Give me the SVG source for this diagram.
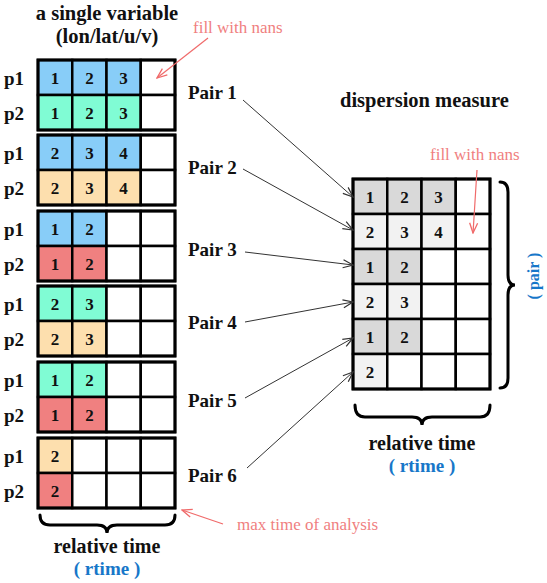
<svg xmlns="http://www.w3.org/2000/svg" width="547" height="583" viewBox="0 0 547 583" font-family="'Liberation Serif', 'DejaVu Serif', 'Times New Roman', Times, serif">
<style>
.c{stroke:#000;stroke-width:2.5}
.ob{fill:none;stroke:#000;stroke-width:3}
.b{fill:#88cdf8}.a{fill:#80fcd4}.o{fill:#fddfae}.r{fill:#f08080}.w{fill:#fff}.d{fill:#d9d9d9}.l{fill:#f2f2f2}
text{font-family:'Liberation Serif','DejaVu Serif','Times New Roman',Times,serif}
.n{font-size:17px;font-weight:bold;text-anchor:middle;fill:#111}
.t{font-size:19px;font-weight:bold;fill:#111}
.tt{font-size:20.5px;font-weight:bold;fill:#111}
.tm{font-size:20px;font-weight:bold;fill:#111;text-anchor:middle}
.bl{font-size:19px;font-weight:bold;fill:#1777c9;text-anchor:middle}
.pk{font-size:17px;fill:#f07f7f}
.k{fill:none;stroke:#333;stroke-width:1}
.rk{fill:none;stroke:#f06a6a;stroke-width:1.2}
.br{fill:none;stroke:#000;stroke-width:3;stroke-linecap:round}
</style>
<defs>
<marker id="ah" viewBox="0 0 12 10" refX="11" refY="5" markerWidth="12" markerHeight="10" markerUnits="userSpaceOnUse" orient="auto">
<path d="M1,1 L11,5 L1,9" fill="none" stroke="#333" stroke-width="1.2"/>
</marker>
<marker id="rh" viewBox="0 0 12 10" refX="11" refY="5" markerWidth="12" markerHeight="10" markerUnits="userSpaceOnUse" orient="auto">
<path d="M1,1 L11,5 L1,9" fill="none" stroke="#f06a6a" stroke-width="1.3"/>
</marker>
</defs>
<rect width="547" height="583" fill="#fff"/>

<g id="title-left">
<text class="tt" x="107" y="20" text-anchor="middle">a single variable</text>
<text class="tt" x="107" y="43" text-anchor="middle">(lon/lat/u/v)</text>
</g>
<text class="pk" x="193" y="33">fill with nans</text>

<g id="grid1">
<rect class="c b" x="38" y="60" width="34.25" height="35"/><rect class="c b" x="72.25" y="60" width="34.25" height="35"/><rect class="c b" x="106.5" y="60" width="34.25" height="35"/><rect class="c w" x="140.75" y="60" width="34.25" height="35"/>
<rect class="c a" x="38" y="95" width="34.25" height="35"/><rect class="c a" x="72.25" y="95" width="34.25" height="35"/><rect class="c a" x="106.5" y="95" width="34.25" height="35"/><rect class="c w" x="140.75" y="95" width="34.25" height="35"/>
<rect class="ob" x="38" y="60" width="137" height="70"/>
<text class="n" x="55.1" y="83.5">1</text><text class="n" x="89.4" y="83.5">2</text><text class="n" x="123.6" y="83.5">3</text>
<text class="n" x="55.1" y="118.5">1</text><text class="n" x="89.4" y="118.5">2</text><text class="n" x="123.6" y="118.5">3</text>
<text class="t" x="4" y="85">p1</text><text class="t" x="4" y="120">p2</text>
</g>

<g id="grid2">
<rect class="c b" x="38" y="135" width="34.25" height="35"/><rect class="c b" x="72.25" y="135" width="34.25" height="35"/><rect class="c b" x="106.5" y="135" width="34.25" height="35"/><rect class="c w" x="140.75" y="135" width="34.25" height="35"/>
<rect class="c o" x="38" y="170" width="34.25" height="35"/><rect class="c o" x="72.25" y="170" width="34.25" height="35"/><rect class="c o" x="106.5" y="170" width="34.25" height="35"/><rect class="c w" x="140.75" y="170" width="34.25" height="35"/>
<rect class="ob" x="38" y="135" width="137" height="70"/>
<text class="n" x="55.1" y="158.5">2</text><text class="n" x="89.4" y="158.5">3</text><text class="n" x="123.6" y="158.5">4</text>
<text class="n" x="55.1" y="193.5">2</text><text class="n" x="89.4" y="193.5">3</text><text class="n" x="123.6" y="193.5">4</text>
<text class="t" x="4" y="160">p1</text><text class="t" x="4" y="195">p2</text>
</g>

<g id="grid3">
<rect class="c b" x="38" y="211" width="34.25" height="35"/><rect class="c b" x="72.25" y="211" width="34.25" height="35"/><rect class="c w" x="106.5" y="211" width="34.25" height="35"/><rect class="c w" x="140.75" y="211" width="34.25" height="35"/>
<rect class="c r" x="38" y="246" width="34.25" height="35"/><rect class="c r" x="72.25" y="246" width="34.25" height="35"/><rect class="c w" x="106.5" y="246" width="34.25" height="35"/><rect class="c w" x="140.75" y="246" width="34.25" height="35"/>
<rect class="ob" x="38" y="211" width="137" height="70"/>
<text class="n" x="55.1" y="234.5">1</text><text class="n" x="89.4" y="234.5">2</text>
<text class="n" x="55.1" y="269.5">1</text><text class="n" x="89.4" y="269.5">2</text>
<text class="t" x="4" y="236">p1</text><text class="t" x="4" y="271">p2</text>
</g>

<g id="grid4">
<rect class="c a" x="38" y="286" width="34.25" height="35"/><rect class="c a" x="72.25" y="286" width="34.25" height="35"/><rect class="c w" x="106.5" y="286" width="34.25" height="35"/><rect class="c w" x="140.75" y="286" width="34.25" height="35"/>
<rect class="c o" x="38" y="321" width="34.25" height="35"/><rect class="c o" x="72.25" y="321" width="34.25" height="35"/><rect class="c w" x="106.5" y="321" width="34.25" height="35"/><rect class="c w" x="140.75" y="321" width="34.25" height="35"/>
<rect class="ob" x="38" y="286" width="137" height="70"/>
<text class="n" x="55.1" y="309.5">2</text><text class="n" x="89.4" y="309.5">3</text>
<text class="n" x="55.1" y="344.5">2</text><text class="n" x="89.4" y="344.5">3</text>
<text class="t" x="4" y="311">p1</text><text class="t" x="4" y="346">p2</text>
</g>

<g id="grid5">
<rect class="c a" x="38" y="362" width="34.25" height="35"/><rect class="c a" x="72.25" y="362" width="34.25" height="35"/><rect class="c w" x="106.5" y="362" width="34.25" height="35"/><rect class="c w" x="140.75" y="362" width="34.25" height="35"/>
<rect class="c r" x="38" y="397" width="34.25" height="35"/><rect class="c r" x="72.25" y="397" width="34.25" height="35"/><rect class="c w" x="106.5" y="397" width="34.25" height="35"/><rect class="c w" x="140.75" y="397" width="34.25" height="35"/>
<rect class="ob" x="38" y="362" width="137" height="70"/>
<text class="n" x="55.1" y="385.5">1</text><text class="n" x="89.4" y="385.5">2</text>
<text class="n" x="55.1" y="420.5">1</text><text class="n" x="89.4" y="420.5">2</text>
<text class="t" x="4" y="387">p1</text><text class="t" x="4" y="422">p2</text>
</g>

<g id="grid6">
<rect class="c o" x="38" y="438" width="34.25" height="35"/><rect class="c w" x="72.25" y="438" width="34.25" height="35"/><rect class="c w" x="106.5" y="438" width="34.25" height="35"/><rect class="c w" x="140.75" y="438" width="34.25" height="35"/>
<rect class="c r" x="38" y="473" width="34.25" height="35"/><rect class="c w" x="72.25" y="473" width="34.25" height="35"/><rect class="c w" x="106.5" y="473" width="34.25" height="35"/><rect class="c w" x="140.75" y="473" width="34.25" height="35"/>
<rect class="ob" x="38" y="438" width="137" height="70"/>
<text class="n" x="55.1" y="461.5">2</text>
<text class="n" x="55.1" y="496.5">2</text>
<text class="t" x="4" y="463">p1</text><text class="t" x="4" y="498">p2</text>
</g>

<g id="axis-left">
<path class="br" d="M40,515 Q40,525 50,525 L97,525 Q107,525 107,533 Q107,525 117,525 L165,525 Q175,525 175,515"/>
<text class="tm" x="107" y="553">relative time</text>
<text class="bl" x="107" y="575">( rtime )</text>
</g>
<text class="pk" x="237" y="530">max time of analysis</text>

<g id="pairs">
<text class="t" x="188" y="99">Pair 1</text>
<text class="t" x="188" y="174">Pair 2</text>
<text class="t" x="188" y="256">Pair 3</text>
<text class="t" x="188" y="329">Pair 4</text>
<text class="t" x="188" y="407">Pair 5</text>
<text class="t" x="188" y="482">Pair 6</text>
</g>

<g id="title-right">
<text class="tt" x="340" y="107">dispersion measure</text>
</g>
<text class="pk" x="430" y="160">fill with nans</text>

<g id="grid-dispersion">
<rect class="c d" x="353" y="179" width="34.25" height="35"/><rect class="c d" x="387.25" y="179" width="34.25" height="35"/><rect class="c d" x="421.5" y="179" width="34.25" height="35"/><rect class="c w" x="455.75" y="179" width="34.25" height="35"/>
<rect class="c l" x="353" y="214" width="34.25" height="35"/><rect class="c l" x="387.25" y="214" width="34.25" height="35"/><rect class="c l" x="421.5" y="214" width="34.25" height="35"/><rect class="c w" x="455.75" y="214" width="34.25" height="35"/>
<rect class="c d" x="353" y="249" width="34.25" height="35"/><rect class="c d" x="387.25" y="249" width="34.25" height="35"/><rect class="c w" x="421.5" y="249" width="34.25" height="35"/><rect class="c w" x="455.75" y="249" width="34.25" height="35"/>
<rect class="c l" x="353" y="284" width="34.25" height="35"/><rect class="c l" x="387.25" y="284" width="34.25" height="35"/><rect class="c w" x="421.5" y="284" width="34.25" height="35"/><rect class="c w" x="455.75" y="284" width="34.25" height="35"/>
<rect class="c d" x="353" y="319" width="34.25" height="35"/><rect class="c d" x="387.25" y="319" width="34.25" height="35"/><rect class="c w" x="421.5" y="319" width="34.25" height="35"/><rect class="c w" x="455.75" y="319" width="34.25" height="35"/>
<rect class="c l" x="353" y="354" width="34.25" height="35"/><rect class="c w" x="387.25" y="354" width="34.25" height="35"/><rect class="c w" x="421.5" y="354" width="34.25" height="35"/><rect class="c w" x="455.75" y="354" width="34.25" height="35"/>
<rect class="ob" x="353" y="179" width="137" height="210"/>
<text class="n" x="370.1" y="202.5">1</text><text class="n" x="404.4" y="202.5">2</text><text class="n" x="438.6" y="202.5">3</text>
<text class="n" x="370.1" y="237.5">2</text><text class="n" x="404.4" y="237.5">3</text><text class="n" x="438.6" y="237.5">4</text>
<text class="n" x="370.1" y="272.5">1</text><text class="n" x="404.4" y="272.5">2</text>
<text class="n" x="370.1" y="307.5">2</text><text class="n" x="404.4" y="307.5">3</text>
<text class="n" x="370.1" y="342.5">1</text><text class="n" x="404.4" y="342.5">2</text>
<text class="n" x="370.1" y="377.5">2</text>
</g>

<g id="axis-pair">
<path class="br" d="M500,182 Q508,182 508,192 L508,275 Q508,285 515,285 Q508,285 508,295 L508,378 Q508,388 500,388"/>
<text class="bl" style="font-size:16px" x="539" y="276" transform="rotate(-90 539 276)">( pair )</text>
</g>

<g id="axis-right">
<path class="br" d="M355,405 Q355,417 365,417 L412,417 Q422,417 422,425 Q422,417 432,417 L480,417 Q490,417 490,405"/>
<text class="tm" x="422" y="450">relative time</text>
<text class="bl" x="422" y="472">( rtime )</text>
</g>

<g id="connectors">
<line class="k" x1="243" y1="100" x2="353" y2="197" marker-end="url(#ah)"/>
<line class="k" x1="243" y1="169" x2="353" y2="230" marker-end="url(#ah)"/>
<line class="k" x1="245" y1="252" x2="353" y2="265" marker-end="url(#ah)"/>
<line class="k" x1="245" y1="322" x2="353" y2="302" marker-end="url(#ah)"/>
<line class="k" x1="245" y1="398" x2="353" y2="338" marker-end="url(#ah)"/>
<line class="k" x1="247" y1="468" x2="353" y2="372" marker-end="url(#ah)"/>
<line class="rk" x1="208" y1="38" x2="157" y2="78" marker-end="url(#rh)"/>
<line class="rk" x1="477" y1="170" x2="473" y2="233" marker-end="url(#rh)"/>
<line class="rk" x1="223" y1="524" x2="182" y2="510" marker-end="url(#rh)"/>
</g>
</svg>
